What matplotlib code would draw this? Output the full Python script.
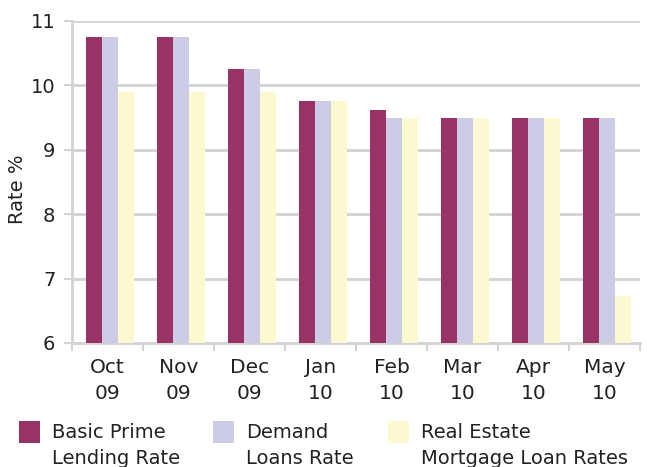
import matplotlib
matplotlib.use("Agg")
import matplotlib.pyplot as plt
import numpy as np
from matplotlib.patches import Rectangle

# ================= DATA =================
months = ["Oct\n09", "Nov\n09", "Dec\n09", "Jan\n10", "Feb\n10", "Mar\n10", "Apr\n10", "May\n10"]
basic_prime = [10.75, 10.75, 10.25, 9.75, 9.625, 9.5, 9.5, 9.5]
demand_loans = [10.75, 10.75, 10.25, 9.75, 9.5, 9.5, 9.5, 9.5]
real_estate = [9.9, 9.9, 9.9, 9.75, 9.5, 9.5, 9.5, 6.73]
series_names = ["Basic Prime\nLending Rate", "Demand\nLoans Rate", "Real Estate\nMortgage Loan Rates"]
# ========================================

colors = ["#993366", "#CCCCE6", "#FCF8CF"]
grid_col = "#D3D3D3"
txt_col = "#222222"
plt.rcParams['font.family'] = ['DejaVu Sans']

W, H = 647, 467
fig = plt.figure(figsize=(W / 100, H / 100), dpi=100)
ax = fig.add_axes([72 / W, 1 - 343 / H, 568 / W, 322 / H])

x = np.arange(len(months))
w = 0.225
off = 0.04
for k, vals in enumerate([basic_prime, demand_loans, real_estate]):
    ax.bar(x + off + (k - 1) * w, np.array(vals) - 6, w, bottom=6,
           color=colors[k], zorder=3)

ax.set_xlim(-0.5, len(months) - 0.5)
ax.set_ylim(6, 11)
ax.set_yticks([6, 7, 8, 9, 10, 11])
ax.yaxis.grid(True, color=grid_col, linewidth=2, zorder=0)
ax.set_axisbelow(True)

ax.set_xticks(x)
ax.set_xticklabels(months, fontsize=14.5, color=txt_col, linespacing=1.42)
ax.tick_params(axis='x', length=0, pad=11)
ax.set_xticks(np.arange(-0.5, len(months)), minor=True)
ax.tick_params(axis='x', which='minor', length=6, width=1.5, color=grid_col)
ax.tick_params(axis='y', length=6, width=1.5, color=grid_col, labelsize=14,
               labelcolor=txt_col, pad=6)

for s in ["top", "right"]:
    ax.spines[s].set_visible(False)
for s in ["left", "bottom"]:
    ax.spines[s].set_color(grid_col)
    ax.spines[s].set_linewidth(2)

ax.set_ylabel("Rate %", fontsize=14, color=txt_col)
ax.yaxis.set_label_coords(-0.08, 0.478)

# legend drawn by hand so it can run off the bottom edge like the original
box_x = [19, 213, 388]
for k, name in enumerate(series_names):
    fig.patches.append(Rectangle((box_x[k] / W, 1 - 443 / H), 21 / W, 22 / H,
                                 transform=fig.transFigure, facecolor=colors[k],
                                 edgecolor="none"))
    fig.text((box_x[k] + 33) / W, 1 - 423 / H, name, fontsize=14, color=txt_col,
             va='top', ha='left', linespacing=1.5)

fig.savefig("out.png", dpi=100)
